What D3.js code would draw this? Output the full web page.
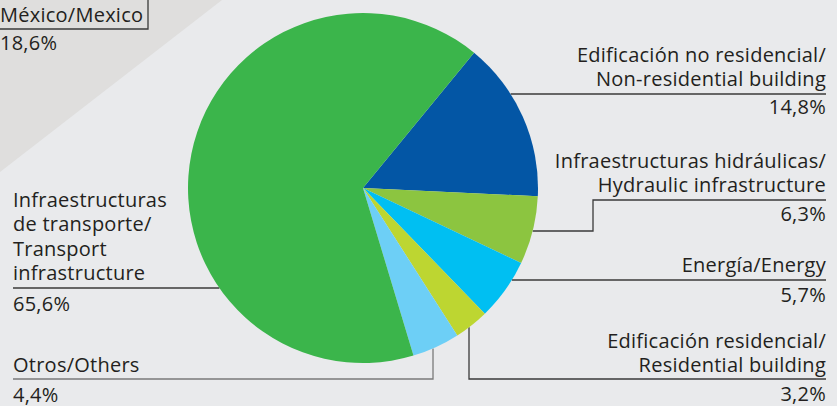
<!DOCTYPE html>
<html>
<head>
<meta charset="utf-8">
<script src="https://cdn.jsdelivr.net/npm/d3@7"></script>
<style>
  body { margin: 0; background: #e9eaec; }
  svg text { font-family: "Open Sans", "Noto Sans", sans-serif; fill: #231f20; font-variant-ligatures: none; letter-spacing: 0.25px; }
</style>
</head>
<body>
<div class="pie-chart"></div>
<script>
// chart values, in drawing order (clockwise from the top right)
var categories = ["Edificación no residencial/Non-residential building",
                  "Infraestructuras hidráulicas/Hydraulic infrastructure",
                  "Energía/Energy",
                  "Edificación residencial/Residential building",
                  "Otros/Others",
                  "Infraestructuras de transporte/Transport infrastructure"];
var values = [14.8, 6.3, 5.7, 3.2, 4.4, 65.6];
var valueLabels = ["14,8%", "6,3%", "5,7%", "3,2%", "4,4%", "65,6%"];
var colors = ["#0356a5", "#8cc540", "#00bff2", "#bdd631", "#6dcff6", "#3bb54b"];

var mexicoLabel = "México/Mexico";
var mexicoValue = "18,6%";

var width = 837, height = 406;
var cx = 363, cy = 188, radius = 175;
var fontSize = "20px";

var svg = d3.select(".pie-chart").append("svg")
    .attr("width", width)
    .attr("height", height);

// backdrop
svg.append("rect")
    .attr("width", width)
    .attr("height", height)
    .attr("fill", "#e9eaec");

svg.append("path")
    .attr("d", "M0,0 L222,0 L0,172 Z")
    .attr("fill", "#dfdedd");

// Mexico box
svg.append("path")
    .attr("d", "M0,29 L148,29 L148,-2")
    .attr("fill", "none")
    .attr("stroke", "#3a3a3a")
    .attr("stroke-width", 1.3);

svg.append("text")
    .attr("x", 0).attr("y", 22)
    .style("font-size", fontSize)
    .text(mexicoLabel);

svg.append("text")
    .attr("x", 0).attr("y", 50)
    .style("font-size", fontSize)
    .text(mexicoValue);

// label layout: text lines, side, rule y, value baseline, leader
var labelLayout = [
  {lines: ["Edificación no residencial/", "Non-residential building"], side: "right",
   top: 62, rule: 94, ruleFrom: null, value: 114},
  {lines: ["Infraestructuras hidráulicas/", "Hydraulic infrastructure"], side: "right",
   top: 168, rule: 200, ruleFrom: 593, step: 231, value: 221},
  {lines: ["Energía/Energy"], side: "right",
   top: 272, rule: 280, ruleFrom: null, value: 302},
  {lines: ["Edificación residencial/", "Residential building"], side: "right",
   top: 348, rule: 379, ruleFrom: 469, value: 401, vertical: true},
  {lines: ["Otros/Others"], side: "left",
   top: 372, rule: 379, ruleFrom: 433, value: 402, vertical: true, stroke: "#7a7a7a"},
  {lines: ["Infraestructuras", "de transporte/", "Transport", "infrastructure"], side: "left",
   top: 207, rule: 288, ruleFrom: null, value: 311}
];

var rightX = 826, leftX = 13, lineH = 24.3;

function edgeX(y, side) {
  var dy = y - cy;
  var dx = Math.sqrt(radius * radius - dy * dy);
  return side === "right" ? cx + dx : cx - dx;
}
function edgeY(x) {
  var dx = x - cx;
  return cy + Math.sqrt(radius * radius - dx * dx);
}

var leaders = svg.append("g")
    .attr("fill", "none")
    .attr("stroke-width", 1.3);

labelLayout.forEach(function(l) {
  var stroke = l.stroke || "#3a3a3a";
  var d;
  if (l.vertical) {
    var endX = l.side === "right" ? rightX : leftX;
    d = "M" + l.ruleFrom + "," + edgeY(l.ruleFrom) + " L" + l.ruleFrom + "," + l.rule + " L" + endX + "," + l.rule;
  } else if (l.step) {
    d = "M" + edgeX(l.step, "right") + "," + l.step + " L" + l.ruleFrom + "," + l.step +
        " L" + l.ruleFrom + "," + l.rule + " L" + rightX + "," + l.rule;
  } else if (l.side === "right") {
    d = "M" + edgeX(l.rule, "right") + "," + l.rule + " L" + rightX + "," + l.rule;
  } else {
    d = "M" + leftX + "," + l.rule + " L" + edgeX(l.rule, "left") + "," + l.rule;
  }
  leaders.append("path").attr("d", d).attr("stroke", stroke);
});

// pie
var startA = 39.4 * Math.PI / 180;
var pie = d3.pie()
    .sort(null)
    .startAngle(startA)
    .endAngle(startA + 2 * Math.PI);

var arc = d3.arc()
    .innerRadius(0)
    .outerRadius(radius);

svg.append("g")
    .attr("transform", "translate(" + cx + "," + cy + ")")
    .selectAll("path")
    .data(pie(values))
    .enter().append("path")
    .attr("d", arc)
    .attr("fill", function(d, i) { return colors[i]; });

// labels
var labels = svg.append("g").style("font-size", fontSize);

labelLayout.forEach(function(l, i) {
  var x = l.side === "right" ? rightX : leftX;
  var anchor = l.side === "right" ? "end" : "start";
  l.lines.forEach(function(t, j) {
    labels.append("text")
        .attr("x", x)
        .attr("y", l.top + j * lineH)
        .attr("text-anchor", anchor)
        .text(t);
  });
  labels.append("text")
      .attr("x", x)
      .attr("y", l.value)
      .attr("text-anchor", anchor)
      .text(valueLabels[i]);
});
</script>
</body>
</html>
